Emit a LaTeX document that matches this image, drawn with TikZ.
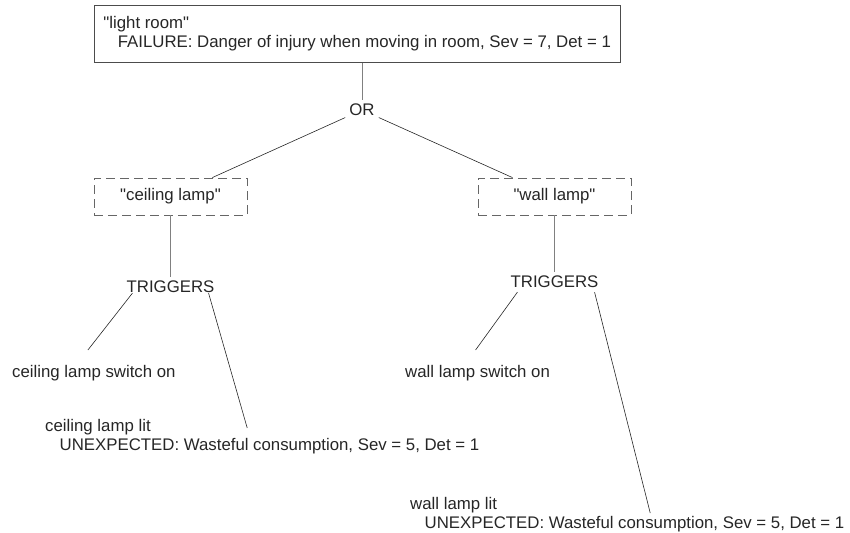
\documentclass[tikz,border=0pt]{standalone}
\usepackage{fontspec}
\setmainfont{Liberation Sans}[Ligatures=TeXOff]
\begin{document}
\begin{tikzpicture}[x=1pt, y=-1pt,
    font=\fontsize{16.8}{19}\selectfont, text=black!85,
    failbox/.style={draw=black!70, line width=0.8pt, anchor=north west, align=left,
      inner xsep=9.5pt, inner ysep=0pt, minimum height=57pt},
    lampbox/.style={draw=black!60, dash pattern=on 9pt off 5pt, line width=0.8pt,
      minimum width=153pt, minimum height=37pt, inner sep=0pt},
    gate/.style={inner sep=4pt},
    leaf/.style={inner sep=0pt, anchor=north west, align=left},
    stem/.style={draw=black!50, line width=0.8pt},
    branch/.style={draw=black!85, line width=0.6pt}]
  \useasboundingbox (0,0) rectangle (850,532);

  % Nodes
  \node[failbox] at (93.5, 5) (fail) {"light room"\\\hspace*{14.5pt}FAILURE: Danger of injury when moving in room, Sev = 7, Det = 1};
  \node[gate] at (362, 110) (or) {OR};
  \node[lampbox] at (170.5, 196.5) (ceil) {"ceiling lamp"};
  \node[lampbox] at (554.5, 196.5) (wall) {"wall lamp"};
  \node[gate] at (170.5, 287) (trigA) {TRIGGERS};
  \node[gate] at (554.5, 282) (trigB) {TRIGGERS};
  \node[leaf] at (12, 365) (swA) {ceiling lamp switch on};
  \node[leaf] at (405, 365) (swB) {wall lamp switch on};
  \node[leaf] at (45, 419) (litA) {ceiling lamp lit\\\hspace*{14.5pt}UNEXPECTED: Wasteful consumption, Sev = 5, Det = 1};
  \node[leaf] at (410, 497) (litB) {wall lamp lit\\\hspace*{14.5pt}UNEXPECTED: Wasteful consumption, Sev = 5, Det = 1};

  % Edges
  \draw[stem] (fail.south -| or) -- (or);
  \draw[branch] (or) -- (ceil);
  \draw[branch] (or) -- (wall);
  \draw[stem] (ceil) -- (trigA);
  \draw[stem] (wall) -- (trigB);
  \draw[branch] ([shift={(10pt,4pt)}]trigA.south west) -- ([shift={(-6pt,15pt)}]swA.north);
  \draw[branch] ([shift={(-10pt,4pt)}]trigA.south east) -- ([shift={(-15pt,-9pt)}]litA.north);
  \draw[branch] ([xshift=11pt]trigB.south west) -- ([shift={(-2pt,15pt)}]swB.north);
  \draw[branch] ([xshift=-8pt]trigB.south east) -- ([shift={(23pt,-16pt)}]litB.north);
\end{tikzpicture}
\end{document}
